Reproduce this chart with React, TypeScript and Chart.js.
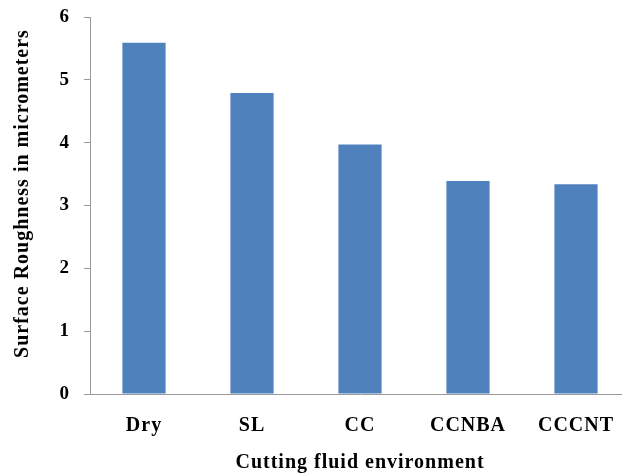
import { useEffect, useRef } from "react";
import { Chart, registerables } from "chart.js";

Chart.register(...registerables);

const categories = ["Dry", "SL", "CC", "CCNBA", "CCCNT"];
const roughness = [5.59, 4.79, 3.97, 3.39, 3.34];
const yTicks = [0, 1, 2, 3, 4, 5, 6];
const xTitle = "Cutting fluid environment";
const yTitle = "Surface Roughness in micrometers";

const FONT = "'Liberation Serif', 'Times New Roman', serif";
const AXIS_COLOR = "#9a9a9a";

export default function App() {
  const ref = useRef<HTMLCanvasElement>(null);

  useEffect(() => {
    if (!ref.current) return;
    const textPlugin = {
      id: "textDraw",
      beforeDraw(chart: any) {
        (chart.ctx as any).letterSpacing = "1px";
      },
      afterDraw(chart: any) {
        const ctx = chart.ctx;
        ctx.save();
        ctx.translate(23, (chart.chartArea.top + chart.chartArea.bottom) / 2 - 12);
        ctx.rotate(-Math.PI / 2);
        ctx.font = `bold 20px ${FONT}`;
        ctx.fillStyle = "#000";
        ctx.textAlign = "center";
        ctx.textBaseline = "middle";
        ctx.fillText(yTitle, 0, 0);
        ctx.restore();
      },
    };

    const chart = new Chart(ref.current, {
      type: "bar",
      data: {
        labels: categories,
        datasets: [
          {
            data: roughness,
            backgroundColor: "#4f81bd",
            borderWidth: 0,
            barPercentage: 0.4,
            categoryPercentage: 1.0,
          },
        ],
      },
      options: {
        animation: false,
        responsive: false,
        devicePixelRatio: 1,
        layout: { padding: { top: 17, left: 0, right: 0, bottom: 0 } },
        plugins: {
          legend: { display: false },
          tooltip: { enabled: false },
        },
        scales: {
          x: {
            grid: { display: false },
            border: { display: true, color: AXIS_COLOR, width: 1 },
            ticks: {
              color: "#000",
              padding: 12,
              font: { family: FONT, size: 20, weight: "bold" },
            },
            title: {
              display: true,
              text: xTitle,
              color: "#000",
              padding: { top: 0, bottom: 0 },
              font: { family: FONT, size: 20, weight: "bold" },
            },
            afterFit(scale: any) {
              scale.height = 81;
              scale.paddingLeft = 0;
              scale.paddingRight = 0;
            },
          },
          y: {
            min: yTicks[0],
            max: yTicks[yTicks.length - 1],
            grid: {
              display: true,
              drawOnChartArea: false,
              drawTicks: true,
              tickLength: 6,
              color: AXIS_COLOR,
            },
            border: { display: true, color: AXIS_COLOR, width: 1 },
            ticks: {
              stepSize: 1,
              color: "#000",
              padding: 14,
              font: { family: FONT, size: 19, weight: "bold" },
            },
            afterFit(scale: any) {
              scale.width = 90;
              scale.paddingTop = 0;
              scale.paddingBottom = 0;
            },
          },
        },
      },
      plugins: [textPlugin],
    });

    return () => chart.destroy();
  }, []);

  return (
    <div
      style={{
        position: "absolute",
        left: 0,
        top: 0,
        width: 622,
        height: 475,
        overflow: "hidden",
        background: "#fff",
      }}
    >
      <canvas ref={ref} width={630} height={475} style={{ display: "block", width: 630, height: 475 }} />
    </div>
  );
}
